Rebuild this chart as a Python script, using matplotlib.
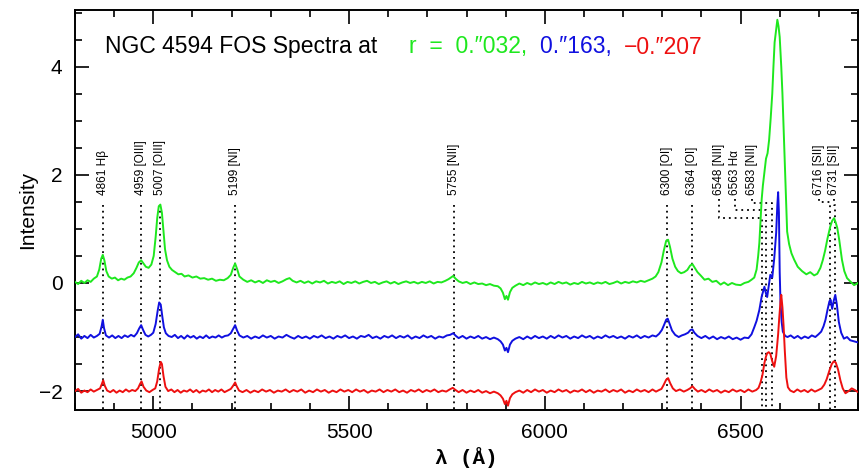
import matplotlib
matplotlib.use("Agg")
import matplotlib.pyplot as plt
from matplotlib.ticker import MultipleLocator

plt.rcParams["font.family"] = ["Liberation Sans", "DejaVu Sans"]

# spectra: (wavelength [A], intensity)
GREEN = [
    (4800, 0.02), (4808, -0.02), (4816, 0.04), (4824, 0.00), (4832, 0.05), (4840, 0.02), (4848, 0.08),
    (4856, 0.12), (4862, 0.25), (4867, 0.45), (4871, 0.52), (4875, 0.42), (4880, 0.22), (4886, 0.12),
    (4894, 0.08), (4902, 0.10), (4910, 0.05), (4918, 0.08), (4926, 0.06), (4934, 0.10), (4942, 0.12),
    (4950, 0.18), (4957, 0.28), (4963, 0.38), (4969, 0.42), (4975, 0.36), (4981, 0.30), (4988, 0.28),
    (4995, 0.34), (5001, 0.50), (5006, 0.85), (5010, 1.20), (5014, 1.42), (5018, 1.45), (5022, 1.30),
    (5026, 0.95), (5030, 0.62), (5035, 0.42), (5041, 0.30), (5048, 0.24), (5056, 0.20), (5064, 0.16),
    (5072, 0.17), (5080, 0.12), (5090, 0.14), (5100, 0.10), (5110, 0.12), (5120, 0.08), (5130, 0.09),
    (5140, 0.06), (5150, 0.08), (5160, 0.04), (5170, 0.06), (5180, 0.05), (5190, 0.09), (5198, 0.15),
    (5204, 0.28), (5209, 0.36), (5214, 0.26), (5220, 0.12), (5230, 0.06), (5240, 0.02), (5250, 0.05),
    (5260, 0.01), (5270, 0.04), (5280, 0.00), (5290, 0.05), (5300, 0.02), (5310, 0.04), (5320, 0.00),
    (5330, 0.03), (5340, 0.07), (5348, 0.09), (5356, 0.04), (5366, 0.01), (5376, 0.04), (5386, 0.00),
    (5396, 0.03), (5406, -0.01), (5416, 0.03), (5426, 0.01), (5436, 0.04), (5446, -0.01), (5456, 0.02),
    (5466, 0.00), (5476, 0.03), (5486, -0.02), (5496, 0.02), (5506, 0.00), (5516, 0.03), (5526, -0.01),
    (5536, 0.02), (5546, 0.04), (5556, 0.00), (5566, 0.02), (5576, -0.02), (5586, 0.01), (5596, 0.03),
    (5606, -0.01), (5616, 0.02), (5626, -0.02), (5636, 0.01), (5646, 0.03), (5656, 0.00), (5666, 0.02),
    (5676, -0.01), (5686, 0.02), (5696, 0.00), (5706, 0.03), (5716, -0.01), (5726, 0.02), (5736, 0.01),
    (5746, 0.04), (5754, 0.07), (5760, 0.10), (5766, 0.13), (5772, 0.08), (5780, 0.03), (5790, 0.00),
    (5800, 0.02), (5810, -0.02), (5820, 0.01), (5830, -0.02), (5840, -0.01), (5850, -0.04), (5860, -0.02),
    (5870, -0.05), (5880, -0.06), (5887, -0.10), (5893, -0.18), (5898, -0.30), (5902, -0.24), (5906, -0.31),
    (5911, -0.17), (5917, -0.09), (5925, -0.05), (5935, -0.01), (5945, -0.04), (5955, 0.00), (5965, -0.03),
    (5975, 0.01), (5985, -0.02), (5995, 0.00), (6005, -0.03), (6015, 0.01), (6025, -0.02), (6035, 0.02),
    (6045, -0.01), (6055, 0.01), (6065, -0.03), (6075, 0.00), (6085, -0.02), (6095, 0.02), (6105, -0.01),
    (6115, 0.01), (6125, -0.02), (6135, 0.01), (6145, -0.01), (6155, 0.02), (6165, -0.02), (6175, 0.00),
    (6185, 0.03), (6195, -0.01), (6205, 0.02), (6215, 0.00), (6225, 0.03), (6235, 0.01), (6245, 0.04),
    (6255, 0.02), (6265, 0.05), (6275, 0.08), (6283, 0.12), (6290, 0.20), (6298, 0.38), (6304, 0.60),
    (6310, 0.78), (6315, 0.80), (6320, 0.66), (6326, 0.45), (6333, 0.30), (6340, 0.22), (6348, 0.18),
    (6356, 0.20), (6364, 0.24), (6371, 0.32), (6377, 0.35), (6383, 0.28), (6390, 0.20), (6398, 0.14),
    (6408, 0.06), (6418, 0.08), (6428, 0.02), (6438, 0.04), (6449, -0.03), (6458, 0.01), (6468, -0.04),
    (6478, 0.00), (6488, -0.03), (6500, -0.04), (6510, 0.00), (6520, 0.02), (6528, 0.06), (6535, 0.10),
    (6541, 0.25), (6545, 0.50), (6548, 0.74), (6551, 1.15), (6554, 1.55), (6557, 1.80), (6561, 2.05),
    (6565, 2.30), (6569, 2.40), (6573, 2.65), (6577, 3.05), (6581, 3.50), (6584, 4.00), (6587, 4.45),
    (6591, 4.70), (6594, 4.87), (6597, 4.75), (6600, 4.55), (6604, 4.00), (6607, 3.50), (6610, 2.85),
    (6613, 2.20), (6616, 1.60), (6619, 0.95), (6624, 0.72), (6630, 0.55), (6637, 0.43), (6646, 0.30),
    (6657, 0.22), (6668, 0.16), (6678, 0.20), (6688, 0.14), (6696, 0.17), (6704, 0.28), (6710, 0.42),
    (6716, 0.60), (6722, 0.82), (6729, 1.04), (6734, 1.15), (6739, 1.20), (6743, 1.12), (6747, 1.02),
    (6752, 0.80), (6759, 0.43), (6765, 0.22), (6772, 0.09), (6780, 0.03), (6790, -0.04), (6800, 0.00),
]

BLUE = [
    (4800, -1.00), (4808, -0.95), (4816, -1.03), (4824, -0.98), (4832, -1.02), (4840, -0.96), (4848, -1.01),
    (4856, -0.98), (4863, -0.94), (4868, -0.80), (4871, -0.68), (4874, -0.83), (4879, -0.97), (4887, -1.01),
    (4895, -0.97), (4903, -1.02), (4911, -0.98), (4919, -1.02), (4927, -0.97), (4935, -1.00), (4943, -0.96),
    (4951, -0.99), (4958, -0.93), (4964, -0.84), (4969, -0.78), (4974, -0.87), (4980, -0.96), (4987, -0.99),
    (4994, -0.96), (5000, -0.92), (5006, -0.76), (5011, -0.52), (5015, -0.36), (5019, -0.40), (5023, -0.62),
    (5027, -0.82), (5032, -0.93), (5039, -0.98), (5047, -1.00), (5055, -0.96), (5063, -1.02), (5071, -0.98),
    (5079, -1.03), (5087, -0.97), (5095, -1.01), (5103, -0.98), (5111, -1.03), (5119, -0.99), (5127, -1.02),
    (5135, -0.97), (5143, -1.02), (5151, -0.99), (5159, -1.01), (5167, -0.97), (5175, -1.01), (5183, -0.98),
    (5191, -0.97), (5198, -0.93), (5204, -0.85), (5209, -0.78), (5214, -0.88), (5220, -0.97), (5230, -1.01),
    (5240, -0.98), (5250, -1.03), (5260, -0.99), (5270, -1.02), (5280, -0.97), (5290, -1.01), (5300, -0.98),
    (5310, -1.03), (5320, -0.99), (5330, -1.01), (5340, -0.96), (5350, -1.00), (5360, -1.03), (5370, -0.98),
    (5380, -1.02), (5390, -0.99), (5400, -1.03), (5410, -0.98), (5420, -1.01), (5430, -0.97), (5440, -1.02),
    (5450, -0.99), (5460, -1.03), (5470, -0.98), (5480, -1.01), (5490, -0.97), (5500, -1.02), (5510, -0.99),
    (5520, -1.03), (5530, -0.98), (5540, -1.00), (5550, -0.96), (5560, -1.02), (5570, -0.99), (5580, -1.03),
    (5590, -0.98), (5600, -1.01), (5610, -0.97), (5620, -1.02), (5630, -0.98), (5640, -1.01), (5650, -0.97),
    (5660, -1.03), (5670, -0.99), (5680, -1.02), (5690, -0.97), (5700, -1.01), (5710, -0.98), (5720, -1.03),
    (5730, -0.99), (5740, -1.01), (5750, -0.97), (5758, -0.96), (5766, -0.93), (5773, -0.98), (5780, -1.02),
    (5790, -0.98), (5800, -1.03), (5810, -0.99), (5820, -1.02), (5830, -0.98), (5840, -1.03), (5850, -1.00),
    (5860, -1.04), (5870, -1.01), (5880, -1.04), (5887, -1.08), (5893, -1.14), (5898, -1.25), (5902, -1.20),
    (5906, -1.28), (5911, -1.14), (5917, -1.07), (5925, -1.03), (5935, -1.00), (5945, -1.04), (5955, -0.99),
    (5965, -1.03), (5975, -0.98), (5985, -1.02), (5995, -0.99), (6005, -1.03), (6015, -0.98), (6025, -1.02),
    (6035, -0.97), (6045, -1.01), (6055, -0.98), (6065, -1.03), (6075, -0.99), (6085, -1.02), (6095, -0.97),
    (6105, -1.01), (6115, -0.98), (6125, -1.03), (6135, -0.99), (6145, -1.02), (6155, -0.97), (6165, -1.01),
    (6175, -0.98), (6185, -1.02), (6195, -0.99), (6205, -1.03), (6215, -0.98), (6225, -1.01), (6235, -0.97),
    (6245, -1.02), (6255, -0.98), (6265, -1.01), (6275, -0.97), (6284, -0.99), (6292, -0.94), (6299, -0.87),
    (6305, -0.77), (6310, -0.68), (6314, -0.66), (6319, -0.76), (6325, -0.88), (6333, -0.96), (6342, -1.00),
    (6350, -0.97), (6358, -0.95), (6366, -0.92), (6372, -0.87), (6377, -0.86), (6382, -0.92), (6390, -0.98),
    (6400, -1.02), (6410, -0.98), (6420, -1.03), (6430, -0.99), (6440, -1.04), (6450, -1.00), (6460, -1.03),
    (6470, -0.99), (6480, -1.04), (6490, -1.01), (6500, -1.05), (6510, -1.01), (6520, -1.02), (6528, -0.95),
    (6535, -0.82), (6541, -0.70), (6548, -0.50), (6554, -0.25), (6561, -0.07), (6565, -0.20), (6568, -0.26),
    (6572, -0.05), (6576, 0.15), (6581, 0.10), (6586, 0.45), (6591, 0.93), (6594, 1.45), (6596, 1.68),
    (6598, 1.30), (6600, 0.20), (6602, -0.35), (6605, -0.72), (6608, -0.90), (6614, -0.98), (6620, -1.00),
    (6628, -0.97), (6637, -1.02), (6646, -0.98), (6655, -1.03), (6664, -0.99), (6673, -1.02), (6682, -0.97),
    (6691, -1.00), (6699, -0.95), (6706, -0.90), (6712, -0.80), (6717, -0.68), (6722, -0.50), (6727, -0.34),
    (6730, -0.31), (6734, -0.48), (6738, -0.33), (6742, -0.22), (6746, -0.40), (6751, -0.72), (6757, -0.92),
    (6764, -1.03), (6772, -1.00), (6780, -1.06), (6790, -1.08), (6800, -1.10),
]

RED = [
    (4800, -2.00), (4808, -1.96), (4816, -2.03), (4824, -1.99), (4832, -2.02), (4840, -1.97), (4848, -2.01),
    (4856, -1.98), (4864, -1.95), (4869, -1.86), (4872, -1.80), (4876, -1.90), (4882, -1.99), (4890, -2.02),
    (4898, -1.98), (4906, -2.03), (4914, -1.99), (4922, -2.02), (4930, -1.97), (4938, -2.01), (4946, -1.98),
    (4954, -2.00), (4961, -1.95), (4966, -1.87), (4970, -1.82), (4975, -1.92), (4982, -1.99), (4990, -2.02),
    (4998, -1.98), (5005, -1.95), (5010, -1.82), (5015, -1.58), (5019, -1.46), (5022, -1.50), (5026, -1.72),
    (5031, -1.92), (5038, -2.00), (5046, -1.97), (5054, -2.02), (5062, -1.98), (5070, -2.03), (5078, -1.99),
    (5086, -2.01), (5094, -1.97), (5102, -2.02), (5110, -1.98), (5118, -2.03), (5126, -1.99), (5134, -2.01),
    (5142, -1.97), (5150, -2.02), (5158, -1.98), (5166, -2.01), (5174, -1.97), (5182, -2.02), (5190, -1.99),
    (5198, -1.96), (5204, -1.90), (5209, -1.84), (5213, -1.91), (5219, -1.99), (5228, -2.02), (5238, -1.98),
    (5248, -2.03), (5258, -1.99), (5268, -2.02), (5278, -1.97), (5288, -2.01), (5298, -1.98), (5308, -2.03),
    (5318, -1.99), (5328, -2.01), (5338, -1.97), (5348, -2.02), (5358, -1.98), (5368, -2.01), (5378, -1.97),
    (5388, -2.03), (5398, -1.99), (5408, -2.02), (5418, -1.97), (5428, -2.01), (5438, -1.98), (5448, -2.03),
    (5458, -1.99), (5468, -2.02), (5478, -1.97), (5488, -2.01), (5498, -1.98), (5508, -2.02), (5518, -1.97),
    (5528, -2.01), (5538, -1.98), (5548, -2.03), (5558, -1.99), (5568, -2.01), (5578, -1.97), (5588, -2.02),
    (5598, -1.98), (5608, -2.01), (5618, -1.97), (5628, -2.02), (5638, -1.99), (5648, -2.03), (5658, -1.98),
    (5668, -2.01), (5678, -1.97), (5688, -2.02), (5698, -1.98), (5708, -2.01), (5718, -1.97), (5728, -2.02),
    (5738, -1.99), (5748, -2.01), (5757, -1.97), (5765, -1.94), (5772, -1.98), (5780, -2.02), (5790, -1.98),
    (5800, -2.03), (5810, -1.99), (5820, -2.02), (5830, -1.98), (5840, -2.03), (5850, -2.00), (5860, -2.04),
    (5870, -2.01), (5880, -2.04), (5887, -2.08), (5893, -2.14), (5898, -2.24), (5902, -2.18), (5906, -2.27),
    (5911, -2.13), (5917, -2.06), (5925, -2.02), (5935, -1.99), (5945, -2.03), (5955, -1.98), (5965, -2.02),
    (5975, -1.97), (5985, -2.01), (5995, -1.98), (6005, -2.03), (6015, -1.99), (6025, -2.02), (6035, -1.97),
    (6045, -2.01), (6055, -1.98), (6065, -2.03), (6075, -1.99), (6085, -2.01), (6095, -1.97), (6105, -2.02),
    (6115, -1.98), (6125, -2.03), (6135, -1.99), (6145, -2.01), (6155, -1.97), (6165, -2.02), (6175, -1.98),
    (6185, -2.01), (6195, -1.97), (6205, -2.03), (6215, -1.99), (6225, -2.02), (6235, -1.97), (6245, -2.01),
    (6255, -1.98), (6265, -2.02), (6275, -1.97), (6284, -2.01), (6292, -1.98), (6298, -1.96), (6304, -1.88),
    (6310, -1.79), (6315, -1.76), (6320, -1.85), (6327, -1.95), (6335, -2.00), (6345, -1.97), (6355, -2.01),
    (6364, -1.98), (6371, -1.95), (6377, -1.91), (6383, -1.96), (6391, -2.01), (6400, -1.98), (6410, -2.02),
    (6420, -1.97), (6430, -2.01), (6440, -1.98), (6450, -2.03), (6460, -1.99), (6470, -2.02), (6480, -1.97),
    (6490, -2.01), (6500, -1.98), (6510, -2.02), (6520, -1.97), (6530, -2.01), (6540, -1.98), (6546, -1.94),
    (6551, -1.84), (6556, -1.70), (6561, -1.48), (6565, -1.36), (6568, -1.30), (6572, -1.28), (6576, -1.31),
    (6581, -1.45), (6586, -1.55), (6591, -1.35), (6596, -0.95), (6599, -0.63), (6602, -0.35), (6604, -0.22),
    (6607, -0.45), (6610, -0.80), (6613, -1.25), (6617, -1.75), (6621, -1.93), (6627, -1.99), (6636, -2.02),
    (6645, -1.97), (6654, -2.01), (6663, -1.98), (6672, -2.02), (6681, -1.97), (6690, -2.01), (6699, -1.98),
    (6707, -1.95), (6714, -1.88), (6720, -1.78), (6727, -1.62), (6733, -1.50), (6738, -1.45), (6743, -1.47),
    (6749, -1.60), (6755, -1.80), (6761, -1.95), (6768, -2.04), (6776, -2.00), (6784, -1.95), (6792, -1.98),
    (6800, -2.02),
]

# emission line identifications
LINE_NAMES = ["4861 H\u03b2", "4959 [OIII]", "5007 [OIII]", "5199 [NI]", "5755 [NII]", "6300 [OI]",
              "6364 [OI]", "6548 [NII]", "6563 H\u03b1", "6583 [NII]", "6716 [SII]", "6731 [SII]"]
LINE_POS = [4871, 4969, 5017, 5209, 5767, 6313, 6377, 6555, 6566, 6581, 6728, 6741]
LABEL_POS = [4871, 4969, 5017, 5209, 5767, 6313, 6377, 6446, 6487, 6530, 6701, 6739]
ELBOW_Y = [None, None, None, None, None, None, None, 1.20, 1.35, 1.48, 1.50, 1.44]

SPECTRA = [(GREEN, "#1ee81e"), (BLUE, "#1010e0"), (RED, "#ee1010")]
TITLE = "NGC 4594 FOS Spectra at     "
RADII = [("r  =  0.\u2033032,  ", "#1ee81e"), ("0.\u2033163,  ", "#1010e0"), ("\u22120.\u2033207", "#ee1010")]

YMIN, YMAX = -2.35, 5.05
LABEL_Y = 1.63
LEAD_TOP = 1.55

fig = plt.figure(figsize=(8.61, 4.68), dpi=100)
ax = fig.add_axes([75 / 861, 58 / 468, 783 / 861, 400 / 468])

dots = dict(color="black", lw=1.3, linestyle=(0, (1, 2.2)), zorder=1)
for name, pos, lab, elb in zip(LINE_NAMES, LINE_POS, LABEL_POS, ELBOW_Y):
    if elb is None:
        ax.plot([pos, pos], [1.45, YMIN], **dots)
    else:
        ax.plot([lab, lab, pos, pos], [LEAD_TOP, elb, elb, YMIN], **dots)
    ax.text(lab, LABEL_Y, name, rotation=90, ha="center", va="bottom", fontsize=8.5)

for spec, col in SPECTRA:
    wl = [p[0] for p in spec]
    fl = [p[1] for p in spec]
    ax.plot(wl, fl, color=col, lw=1.4, zorder=3)

ax.set_xlim(4800, 6800)
ax.set_ylim(YMIN, YMAX)
ax.xaxis.set_major_locator(MultipleLocator(500))
ax.xaxis.set_minor_locator(MultipleLocator(100))
ax.yaxis.set_major_locator(MultipleLocator(2))
ax.yaxis.set_minor_locator(MultipleLocator(0.5))
ax.tick_params(which="both", direction="in", top=True, right=True, width=1.2, labelsize=15, pad=9)
ax.tick_params(which="major", length=10)
ax.tick_params(which="minor", length=5)
for sp in ax.spines.values():
    sp.set_linewidth(1.4)

ax.set_ylabel("Intensity", fontsize=15, labelpad=1)
ax.set_xlabel("\u03bb (\u00c5)", fontsize=15, fontweight="bold", family=["Liberation Mono", "DejaVu Sans Mono"],
              labelpad=4)

t = ax.text(0.038, 0.9075, TITLE, transform=ax.transAxes, fontsize=16.5, va="center")
for txt, col in RADII:
    t = ax.annotate(txt, xy=(1, 0), xycoords=t, va="bottom", fontsize=16.5, color=col)

fig.savefig("out.png", dpi=100)
